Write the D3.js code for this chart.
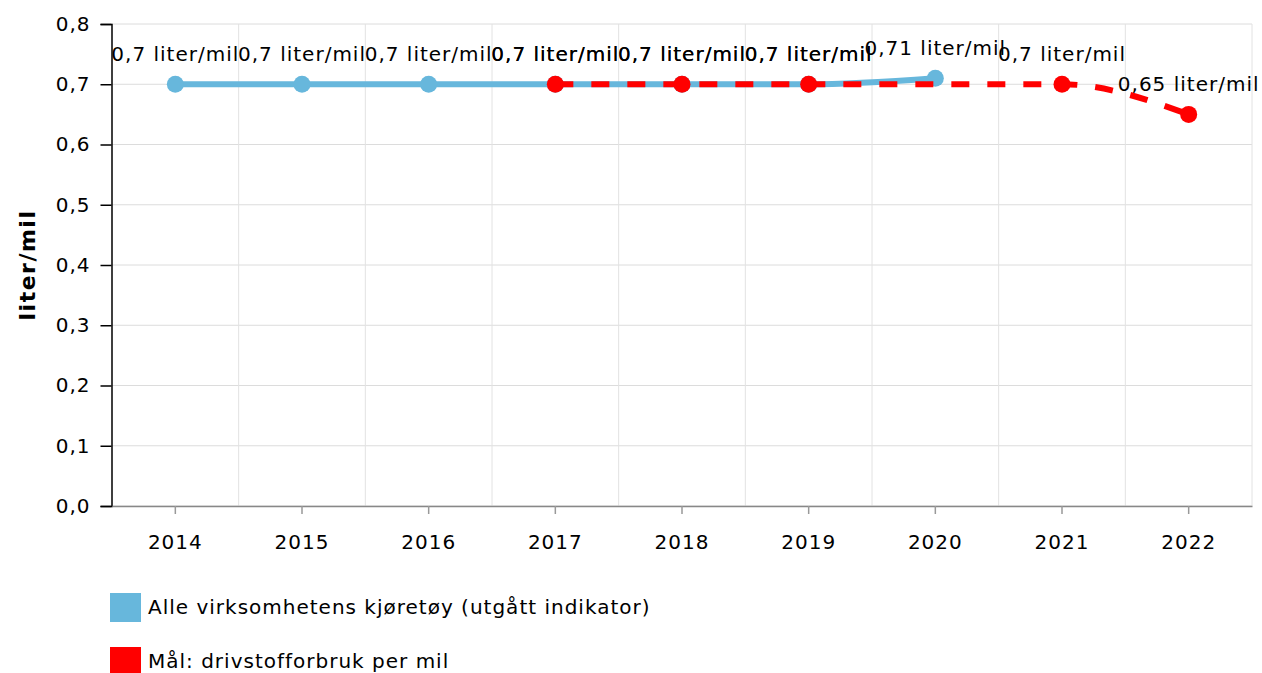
<!DOCTYPE html>
<html>
<head>
<meta charset="utf-8">
<script src="https://cdn.jsdelivr.net/npm/d3@7"></script>
<style>
  html, body { margin: 0; padding: 0; background: #fff; }
  svg { display: block; font-family: "DejaVu Sans", Verdana, sans-serif; }
</style>
</head>
<body>
<svg id="chart" width="1262" height="673"></svg>
<script>
const categories = ["2014", "2015", "2016", "2017", "2018", "2019", "2020", "2021", "2022"];
const blueValues = [0.7, 0.7, 0.7, 0.7, 0.7, 0.7, 0.71, null, null];
const redValues  = [null, null, null, 0.7, 0.7, 0.7, null, 0.7, 0.65];
const yTicks = [0, 0.1, 0.2, 0.3, 0.4, 0.5, 0.6, 0.7, 0.8];
const seriesNames = ["Alle virksomhetens kjøretøy (utgått indikator)", "Mål: drivstofforbruk per mil"];
const seriesColors = ["#67b7dc", "#ff0000"];
const unit = "liter/mil";

const svg = d3.select("#chart");
const m = { left: 112, right: 1252, top: 24, bottom: 506 };
const FS = 20, LS = 1;

const x = d3.scaleBand().domain(categories).range([m.left, m.right]).paddingInner(0).paddingOuter(0);
const y = d3.scaleLinear().domain([0, 0.8]).range([m.bottom, m.top]);
const fmt = v => d3.format(".1f")(v).replace(".", ",");
const fmtLabel = v => String(v).replace(".", ",") + " " + unit;
const cx = c => x(c) + x.bandwidth() / 2;

// horizontal grid
svg.append("g").selectAll("line").data(yTicks).join("line")
  .attr("x1", m.left).attr("x2", m.right)
  .attr("y1", d => y(d)).attr("y2", d => y(d))
  .attr("stroke", "#dcdcdc").attr("stroke-width", 1);

// vertical grid at band boundaries
const bounds = categories.slice(1).map(c => x(c)).concat([m.right]);
svg.append("g").selectAll("line").data(bounds).join("line")
  .attr("x1", d => d).attr("x2", d => d)
  .attr("y1", m.top).attr("y2", m.bottom)
  .attr("stroke", "#e2e2e2").attr("stroke-width", 1);

// y axis
const yAxis = d3.axisLeft(y).tickValues(yTicks).tickFormat(fmt).tickSize(11).tickPadding(10);
const yg = svg.append("g").attr("transform", `translate(${m.left - 0.5},0)`).call(yAxis);
yg.select(".domain").attr("stroke", "#000").attr("stroke-width", 1.5);
yg.selectAll(".tick line").attr("stroke", "#000").attr("stroke-width", 1.5);
yg.selectAll(".tick text").attr("font-size", FS).attr("fill", "#000").attr("letter-spacing", LS)
  .attr("font-family", '"DejaVu Sans", Verdana, sans-serif');

// x axis
const xAxis = d3.axisBottom(x).tickSize(8).tickPadding(21).tickSizeOuter(0);
const xg = svg.append("g").attr("transform", `translate(0,${m.bottom})`).call(xAxis);
xg.select(".domain").attr("stroke", "#888").attr("stroke-width", 1.5);
xg.selectAll(".tick line").attr("stroke", "#999").attr("stroke-width", 1.5);
xg.selectAll(".tick text").attr("font-size", FS).attr("fill", "#000").attr("letter-spacing", LS)
  .attr("font-family", '"DejaVu Sans", Verdana, sans-serif');

// y axis title
svg.append("text")
  .attr("transform", `translate(35,${(m.top + m.bottom) / 2}) rotate(-90)`)
  .attr("text-anchor", "middle")
  .attr("font-size", 22).attr("font-weight", "bold").attr("fill", "#000").attr("letter-spacing", 1.5)
  .text(unit);

function pts(vals) {
  return categories.map((c, i) => ({ c, v: vals[i] })).filter(d => d.v != null);
}
const line = d3.line().x(d => cx(d.c)).y(d => y(d.v)).curve(d3.curveMonotoneX);

const blue = pts(blueValues), red = pts(redValues);

svg.append("path").datum(blue).attr("d", line)
  .attr("fill", "none").attr("stroke", seriesColors[0]).attr("stroke-width", 6);
svg.append("g").selectAll("circle").data(blue).join("circle")
  .attr("cx", d => cx(d.c)).attr("cy", d => y(d.v)).attr("r", 8.5).attr("fill", seriesColors[0]);

svg.append("path").datum(red).attr("d", line)
  .attr("fill", "none").attr("stroke", seriesColors[1]).attr("stroke-width", 6)
  .attr("stroke-dasharray", "18,18");
svg.append("g").selectAll("circle").data(red).join("circle")
  .attr("cx", d => cx(d.c)).attr("cy", d => y(d.v)).attr("r", 8.5).attr("fill", seriesColors[1]);

// labels
[blue, red].forEach(s => {
  svg.append("g").selectAll("text").data(s).join("text")
    .attr("x", d => cx(d.c)).attr("y", d => y(d.v) - 23)
    .attr("text-anchor", "middle").attr("font-size", FS).attr("letter-spacing", LS).attr("fill", "#000")
    .text(d => fmtLabel(d.v));
});

// legend
const lg = svg.append("g");
seriesNames.forEach((n, i) => {
  const yy = 593 + i * 54;
  lg.append("rect").attr("x", 110).attr("y", yy).attr("width", 31).attr("height", 29).attr("fill", seriesColors[i]);
  lg.append("text").attr("x", 148).attr("y", yy + 21).attr("font-size", FS).attr("letter-spacing", LS)
    .attr("fill", "#000").text(n);
});
</script>
</body>
</html>
